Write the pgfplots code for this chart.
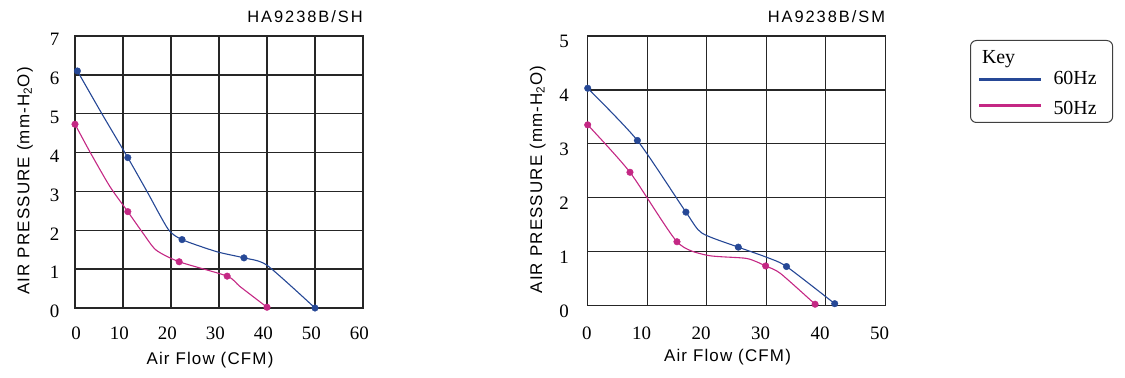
\documentclass[border=0pt]{standalone}
\usepackage{pgfplots}
\pgfplotsset{compat=1.18}
\usepackage{fontspec}
\setmainfont{Liberation Sans}
\newfontfamily\tickfont{Liberation Serif}
\newfontfamily\labfont[LetterSpace=7]{Liberation Sans}
\newfontfamily\titfont[LetterSpace=12]{Liberation Sans}
\definecolor{cblue}{RGB}{38,72,150}
\definecolor{cpink}{RGB}{196,40,132}
\pgfplotsset{
  fanstyle/.style={
    scale only axis,
    clip=false,
    grid=major,
    major grid style={black!85,line width=1.4bp},
    axis line style={black!85,line width=1.4bp},
    major tick length=0pt,
    /pgf/number format/assume math mode=true,
    tick label style={font=\tickfont\fontsize{19}{19}\selectfont,inner sep=0pt},
    every axis x label/.style={at={([xshift=-9bp,yshift=-52bp]axis description cs:0.5,0)},anchor=center,font=\labfont\fontsize{17}{17}\selectfont},
    every axis y label/.style={at={([xshift=-50bp,yshift=-9bp]axis description cs:0,0.5)},anchor=center,rotate=90,font=\labfont\fontsize{17}{17}\selectfont},
    title style={at={([yshift=7.7bp]axis description cs:1,1)},anchor=base east,inner sep=0pt,font=\titfont\fontsize{16.5}{16.5}\selectfont},
    xlabel={Air Flow (CFM)},
    ylabel={AIR PRESSURE (mm-H\textsubscript{2}O)},
  },
  bline/.style={cblue,line width=1.1bp,smooth,tension=0.4},
  pline/.style={cpink,line width=1.1bp,smooth,tension=0.4},
  bmark/.style={cblue,only marks,mark=*,mark size=3.3bp,forget plot},
  pmark/.style={cpink,only marks,mark=*,mark size=3.3bp,forget plot},
}
\begin{document}
\begin{tikzpicture}
\useasboundingbox (0,0) rectangle (1125bp,378bp);
% ---------- left chart ----------
\begin{axis}[fanstyle,
  at={(75bp,70bp)},anchor=south west,
  width=288bp,height=272bp,
  xmin=0,xmax=60,ymin=0,ymax=7,
  xtick={0,10,...,60},ytick={0,1,...,7},
  xticklabel style={anchor=base east,xshift=6bp,yshift=-31.7bp},
  yticklabel style={anchor=east,xshift=-15.5bp,yshift=-3.5bp},
  title={HA9238B/SH}]
\addplot[bline] coordinates {(0.5,6.1) (5.6,5.0) (11,3.87) (15,3.0) (19.4,2.03) (22.3,1.76) (29.5,1.45) (35.2,1.29) (40,1.1) (50,0)};
\addplot[bmark] coordinates {(0.5,6.1) (11,3.87) (22.3,1.76) (35.2,1.29) (50,0)};
\addplot[pline] coordinates {(0,4.73) (3.1,4.02) (7.3,3.12) (11,2.48) (14.2,1.92) (16.9,1.49) (21.7,1.19) (31.7,0.82) (34.4,0.55) (40,0.02)};
\addplot[pmark] coordinates {(0,4.73) (11,2.48) (21.7,1.19) (31.7,0.82) (40,0.02)};
\end{axis}
% ---------- right chart ----------
\begin{axis}[fanstyle,
  at={(587.7bp,72.7bp)},anchor=south west,
  width=297.6bp,height=269.3bp,
  xmin=0,xmax=50,ymin=0,ymax=5,
  xtick={0,10,...,50},ytick={0,1,...,5},
  xticklabel style={anchor=base east,xshift=4bp,yshift=-34.4bp},
  yticklabel style={anchor=east,xshift=-18.7bp,yshift=-5.5bp},
  title={HA9238B/SM},
  legend cell align=left,
  legend image code/.code={\draw[#1,line width=3bp] (0bp,4bp) -- (62bp,4bp);},
  legend style={at={(axis description cs:1.28461,0.98515)},anchor=north west,
    draw=black!75,line width=1bp,rounded corners=6bp,
    inner xsep=7bp,inner ysep=4bp,row sep=3bp,column sep=11bp,
    nodes={inner sep=0pt},
    font=\tickfont\fontsize{20}{20}\selectfont}]
\addlegendimage{empty legend}
\addlegendentry[text height=19bp,text depth=4bp]{\makebox[0pt][l]{\hspace*{-72bp}Key}}
\addplot[bline] coordinates {(0,4.03) (8.35,3.06) (16.5,1.73) (19.2,1.34) (25.3,1.08) (30.1,0.89) (33.4,0.72) (41.5,0.03)};
\addlegendentry[text height=14bp,text depth=13bp]{60Hz\hspace*{9bp}}
\addplot[bmark] coordinates {(0,4.03) (8.35,3.06) (16.5,1.73) (25.3,1.08) (33.4,0.72) (41.5,0.03)};
\addplot[pline] coordinates {(0,3.35) (7.1,2.47) (15,1.18) (20,0.93) (26.7,0.87) (29.9,0.73) (32.4,0.59) (38.2,0.02)};
\addlegendentry[text height=14bp,text depth=4bp]{50Hz\hspace*{9bp}}
\addplot[pmark] coordinates {(0,3.35) (7.1,2.47) (15,1.18) (29.9,0.73) (38.2,0.02)};
\end{axis}
\end{tikzpicture}
\end{document}
